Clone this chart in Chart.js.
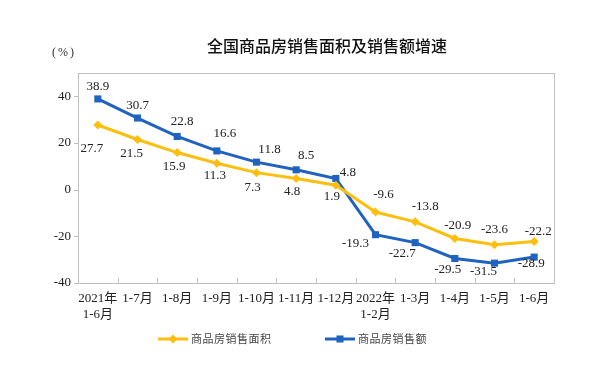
<!DOCTYPE html>
<html>
<head>
<meta charset="utf-8">
<script src="https://cdn.jsdelivr.net/npm/chart.js@4"></script>
<style>
  html, body { margin: 0; padding: 0; background: #fff; }
  #wrap { width: 604px; height: 379px; }
</style>
</head>
<body>
<div id="wrap"><canvas id="chart" width="604" height="379"></canvas></div>
<script>
const categories = [
  ['2021年', '1-6月'], '1-7月', '1-8月', '1-9月', '1-10月', '1-11月', '1-12月',
  ['2022年', '1-2月'], '1-3月', '1-4月', '1-5月', '1-6月'
];
const areaGrowth = [27.7, 21.5, 15.9, 11.3, 7.3, 4.8, 1.9, -9.6, -13.8, -20.9, -23.6, -22.2];
const salesGrowth = [38.9, 30.7, 22.8, 16.6, 11.8, 8.5, 4.8, -19.3, -22.7, -29.5, -31.5, -28.9];
const yTicks = [-40, -20, 0, 20, 40];
const seriesNames = ['商品房销售面积', '商品房销售额'];

const YELLOW = '#FDBF0F';
const BLUE = '#1F62BF';
const FRAME = '#BFBFBF';
const SERIF = '"Liberation Serif", "Noto Sans CJK SC", serif';
const CJK = '"Noto Sans CJK SC", sans-serif';

// label nudges [dx, dy] relative to each point
const areaLabelOffsets = [[-6, 24], [-6, 14], [-3, 14], [-2, 12], [-4, 15], [-4, 13], [-4, 11], [8, -17], [10, -15], [3, -13], [0, -15], [4, -10]];
const salesLabelOffsets = [[0, -12], [0, -12], [5, -15], [8, -17], [13, -13], [10, -14], [12, -6], [-20, 9], [-13, 11], [-7, 11], [-11, 8], [-3, 6]];

const decorPlugin = {
  id: 'decor',
  afterDraw(chart) {
    const ctx = chart.ctx;
    const a = chart.chartArea;
    const xs = chart.scales.x;
    const ys = chart.scales.y;
    ctx.save();

    // frame
    ctx.strokeStyle = FRAME;
    ctx.lineWidth = 1;
    ctx.strokeRect(Math.round(a.left) + 0.5, Math.round(a.top) + 0.5, Math.round(a.right - a.left), Math.round(a.bottom - a.top));

    // x tick marks (between categories, pointing inward)
    const n = categories.length;
    ctx.beginPath();
    for (let i = 1; i < n; i++) {
      const x = Math.round(xs.left + i * (xs.right - xs.left) / n) + 0.5;
      ctx.moveTo(x, a.bottom);
      ctx.lineTo(x, a.bottom - 5);
    }
    // y tick marks
    yTicks.forEach(v => {
      const y = Math.round(ys.getPixelForValue(v)) + 0.5;
      ctx.moveTo(a.left - 4, y);
      ctx.lineTo(a.left, y);
    });
    ctx.stroke();

    // data labels
    ctx.font = '13px ' + SERIF;
    ctx.fillStyle = '#222';
    ctx.textAlign = 'center';
    ctx.textBaseline = 'middle';
    const drawLabels = (dsIndex, values, offsets) => {
      const meta = chart.getDatasetMeta(dsIndex);
      meta.data.forEach((pt, i) => {
        ctx.fillText(values[i].toFixed(1), pt.x + offsets[i][0], pt.y + offsets[i][1]);
      });
    };
    drawLabels(0, areaGrowth, areaLabelOffsets);
    drawLabels(1, salesGrowth, salesLabelOffsets);

    // title and unit
    ctx.fillStyle = '#111';
    ctx.font = '500 16px ' + CJK;
    ctx.fillText('全国商品房销售面积及销售额增速', 327, 46);
    ctx.fillStyle = '#333';
    ctx.font = '12px ' + SERIF;
    ctx.letterSpacing = '2px';
    ctx.fillText('(%)', 64, 53);
    ctx.letterSpacing = '0px';

    // legend
    const legend = [
      { x: 158, color: YELLOW, style: 'rectRot', r: 4.5, text: seriesNames[0] },
      { x: 325, color: BLUE, style: 'rect', r: 5, text: seriesNames[1] }
    ];
    const ly = 339;
    legend.forEach(item => {
      ctx.strokeStyle = item.color;
      ctx.lineWidth = 3;
      ctx.beginPath();
      ctx.moveTo(item.x, ly);
      ctx.lineTo(item.x + 30, ly);
      ctx.stroke();
      ctx.fillStyle = item.color;
      Chart.helpers.drawPoint(ctx, { pointStyle: item.style, radius: item.r, borderWidth: 0 }, item.x + 15, ly);
      ctx.fillStyle = '#444';
      ctx.font = '11px ' + CJK;
      ctx.textAlign = 'left';
      ctx.letterSpacing = '0.5px';
      ctx.fillText(item.text, item.x + 33, ly);
      ctx.letterSpacing = '0px';
    });
    ctx.restore();
  }
};

new Chart(document.getElementById('chart'), {
  type: 'line',
  data: {
    labels: categories,
    datasets: [
      {
        label: seriesNames[0], data: areaGrowth,
        borderColor: YELLOW, backgroundColor: YELLOW, borderWidth: 3,
        pointStyle: 'rectRot', pointRadius: 4.5, pointBorderWidth: 0, tension: 0
      },
      {
        label: seriesNames[1], data: salesGrowth,
        borderColor: BLUE, backgroundColor: BLUE, borderWidth: 3,
        pointStyle: 'rect', pointRadius: 5, pointBorderWidth: 0, tension: 0
      }
    ]
  },
  options: {
    responsive: false,
    animation: false,
    layout: { padding: { top: 73, right: 50, left: 0, bottom: 0 } },
    plugins: { legend: { display: false }, title: { display: false }, tooltip: { enabled: false } },
    scales: {
      x: {
        offset: true,
        grid: { display: false, drawTicks: false },
        border: { display: false },
        ticks: { color: '#222', font: { family: SERIF, size: 13 }, padding: 8, maxRotation: 0, autoSkip: false },
        afterFit: s => { s.height = 96; }
      },
      y: {
        min: -40, max: 50,
        grid: { display: false, drawTicks: false },
        border: { display: false },
        afterBuildTicks: s => { s.ticks = yTicks.map(v => ({ value: v })); },
        ticks: { color: '#222', font: { family: SERIF, size: 13 }, padding: 7 },
        afterFit: s => { s.width = 78; }
      }
    }
  },
  plugins: [decorPlugin]
});
</script>
</body>
</html>
